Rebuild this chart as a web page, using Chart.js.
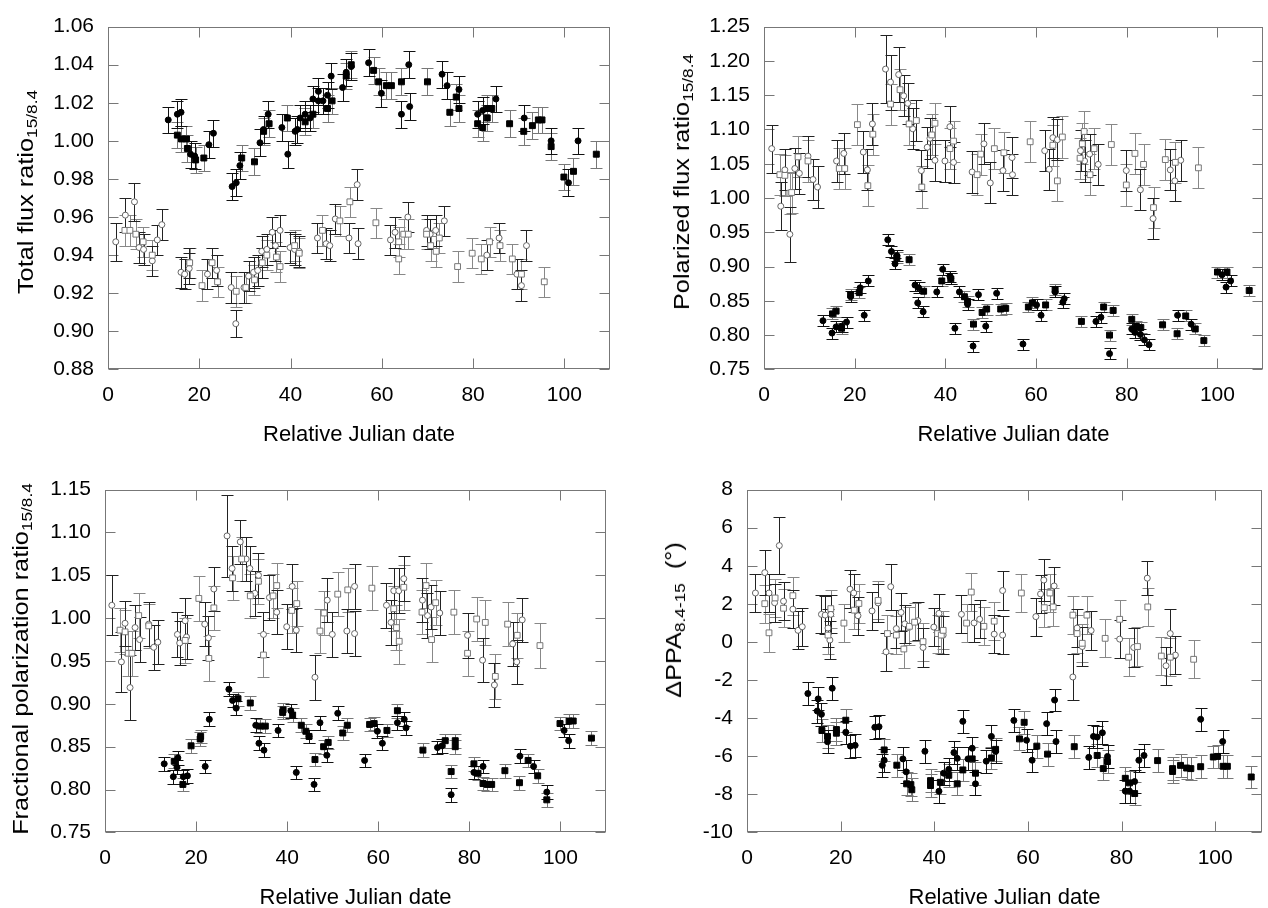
<!DOCTYPE html>
<html>
<head>
<meta charset="utf-8">
<title>Flux ratios</title>
<script src="https://cdn.jsdelivr.net/npm/chart.js@4.4.0/dist/chart.umd.min.js"></script>
<style>
  html, body { margin: 0; padding: 0; background: #fff; overflow: hidden; width: 1268px; height: 908px; }
  canvas { position: absolute; }
  .ytitle {
    position: absolute; white-space: nowrap; line-height: 1; color: #000;
    font-family: "Liberation Sans", Arial, sans-serif; font-size: 22px;
    transform: translate(-50%, -50%) rotate(-90deg) scaleX(1.15);
  }
  .ytitle sub { font-size: 15px; vertical-align: -4px; line-height: 1; }
</style>
</head>
<body>
<canvas id="totalFlux" width="620" height="448" style="left:0;top:0"></canvas>
<canvas id="polFlux" width="628" height="448" style="left:640px;top:0"></canvas>
<canvas id="fracPol" width="620" height="448" style="left:0;top:463px"></canvas>
<canvas id="dPpa" width="628" height="448" style="left:640px;top:463px"></canvas>

<div class="ytitle" style="left:27px;top:192px">Total flux ratio<sub>15/8.4</sub></div>
<div class="ytitle" style="left:683px;top:182px">Polarized flux ratio<sub>15/8.4</sub></div>
<div class="ytitle" style="left:22px;top:659px">Fractional polarization ratio<sub>15/8.4</sub></div>
<div class="ytitle" style="left:675px;top:620px">&Delta;PPA<sub>8.4-15</sub>&nbsp;&nbsp;(&deg;)</div>

<script>
var FONT = '"Liberation Sans", Arial, sans-serif';

// x axis
var julianTicks = [0, 20, 40, 60, 80, 100];
var julianMax = 110;

// y ticks for each panel
var totalFluxTicks = [0.88, 0.90, 0.92, 0.94, 0.96, 0.98, 1.00, 1.02, 1.04, 1.06];
var polFluxTicks = [0.75, 0.80, 0.85, 0.90, 0.95, 1.00, 1.05, 1.10, 1.15, 1.20, 1.25];
var fracPolTicks = [0.75, 0.80, 0.85, 0.90, 0.95, 1.00, 1.05, 1.10, 1.15];
var dPpaTicks = [-10, -8, -6, -4, -2, 0, 2, 4, 6, 8];

// rows: [day, value, error (optional, default below)]
// ---- total flux ratio ----
var totalFilledCircles = [[13.2,1.011],[15.2,1.014],[16.0,1.015],[18.1,0.993],[19.0,0.992],[22.1,0.998],[23.1,1.004],
  [27.2,0.976],[28.1,0.978],[28.9,0.987],[33.3,0.999],[34.1,1.006],[35.1,1.014],[38.1,1.007],[39.4,0.993],[41.0,1.005],
  [41.5,1.006],[42.1,1.012],[43.2,1.014],[44.3,1.012],[44.9,1.022],[46.1,1.026],[46.1,1.021],[47.1,1.021],[48.1,1.024],
  [48.9,1.034],[51.4,1.028],[52.2,1.036],[53.3,1.039],[57.1,1.041],[59.9,1.025],[64.3,1.014],[65.9,1.040],[66.1,1.018],
  [73.2,1.035],[74.3,1.029],[76.9,1.027],[81.0,1.014],[82.1,1.016],[85.0,1.022],[91.2,1.012],[97.1,1.000],[100.9,0.978],
  [103.0,1.000]];
var totalFilledSquares = [[15.2,1.003],[16.1,1.001],[17.2,1.001],[17.4,0.996],[19.2,0.990],[21.0,0.991],[29.3,0.991],
  [32.1,0.989],[34.1,1.005],[35.3,1.009],[39.3,1.012],[43.2,1.010],[44.9,1.014],[48.1,1.017],[49.1,1.021],[52.2,1.034],
  [53.3,1.040],[58.2,1.037],[59.3,1.031],[61.0,1.029],[62.1,1.029],[64.3,1.031],[70.0,1.031],[74.9,1.015],[76.3,1.023],
  [76.9,1.017],[81.0,1.009],[82.1,1.007],[83.1,1.012],[83.1,1.017],[84.1,1.017],[88.0,1.009],[91.1,1.005],[93.0,1.008],
  [94.3,1.011],[95.1,1.011],[97.1,0.997],[99.9,0.981],[102.0,0.984],[107.0,0.993]];
var totalOpenCircles = [[1.7,0.947,0.010],[3.8,0.961,0.009],[5.8,0.968,0.010],[6.8,0.944],[7.8,0.943],[9.7,0.937],
  [10.8,0.948],[11.8,0.956],[16.0,0.931],[16.8,0.930],[17.8,0.933],[17.8,0.936],[21.8,0.930],[22.7,0.936],[23.8,0.932],
  [27.0,0.923],[28.0,0.904,0.007],[29.8,0.923],[30.8,0.929],[31.9,0.931],[32.8,0.932],[33.7,0.936],[33.7,0.942],
  [34.8,0.943],[36.0,0.952],[36.7,0.945],[37.7,0.953],[39.9,0.944],[40.9,0.943],[41.9,0.942],[45.9,0.949],[47.8,0.946],
  [48.6,0.945],[49.8,0.959],[52.8,0.949],[54.6,0.977],[54.8,0.946],[61.9,0.948],[62.9,0.952],[65.7,0.960],[69.8,0.953],
  [70.6,0.951],[71.8,0.953],[73.7,0.958],[83.0,0.940],[85.7,0.949],[89.6,0.930],[90.6,0.924],[91.7,0.945]];
var totalOpenSquares = [[3.7,0.953],[4.8,0.953],[6.1,0.951],[7.7,0.947],[9.7,0.940],[17.9,0.936],[20.6,0.924],
  [22.8,0.936],[24.0,0.926],[28.1,0.921],[30.2,0.923],[32.1,0.927],[33.8,0.936],[34.8,0.940],[36.9,0.939],[37.7,0.934],
  [40.9,0.945],[41.9,0.941],[47.0,0.953],[50.8,0.958],[53.0,0.968],[58.7,0.957],[63.7,0.938],[63.7,0.947],[64.8,0.951],
  [65.8,0.951],[69.8,0.951],[70.7,0.945],[71.9,0.942],[72.6,0.949],[76.6,0.934],[79.8,0.941],[81.8,0.938],[83.6,0.947],
  [85.9,0.945],[88.6,0.938],[90.6,0.930],[95.6,0.926]];

// ---- polarized flux ratio ----
var polFilledCircles = [[13.0,0.821],[15.0,0.803],[15.9,0.812],[17.1,0.813],[18.2,0.819],[19.1,0.856],[21.2,0.869],
  [22.1,0.829],[23.0,0.879],[27.3,0.939],[28.1,0.922],[28.9,0.904],[29.3,0.916],[33.3,0.873],[33.9,0.847],[34.1,0.869],
  [35.1,0.834],[38.1,0.863],[39.4,0.896],[41.0,0.886],[41.2,0.883],[42.1,0.810],[43.1,0.863],[44.9,0.845],[46.1,0.784],
  [47.3,0.859],[48.9,0.813],[51.3,0.861],[57.1,0.787],[60.1,0.844],[61.1,0.829],[64.2,0.863],[65.9,0.848],[66.2,0.853],
  [73.2,0.820],[74.3,0.826],[76.2,0.773],[81.1,0.809],[81.8,0.804],[83.0,0.801],[83.9,0.793],[84.9,0.786],[91.2,0.829],
  [94.2,0.816],[101.0,0.888],[101.9,0.870],[102.9,0.879]];
var polFilledSquares = [[15.1,0.831],[15.9,0.835],[17.1,0.810],[19.1,0.859],[21.0,0.862],[29.3,0.913],[32.0,0.910],
  [35.2,0.864],[39.2,0.879],[41.2,0.882],[44.2,0.856],[44.9,0.849],[46.2,0.816],[48.1,0.833],[49.1,0.838],[52.2,0.838],
  [53.3,0.839],[58.3,0.841],[59.2,0.847],[62.1,0.844],[64.2,0.866],[70.0,0.820],[74.9,0.841],[76.2,0.800],[77.0,0.836],
  [81.1,0.823],[82.1,0.813],[83.1,0.811],[87.9,0.815],[91.1,0.802],[93.0,0.828],[95.1,0.809],[97.0,0.792],[100.0,0.892],
  [102.1,0.892],[107.0,0.865]];
var polOpenCircles = [[1.7,1.072,0.035],[3.7,0.988,0.035],[4.6,1.041],[5.7,0.947,0.040],[6.8,1.043],[7.8,1.036],
  [9.7,1.061],[10.8,1.027],[11.8,1.016],[16.0,1.054],[17.6,1.065],[21.9,1.067],[22.8,1.041],[23.9,1.108],
  [26.8,1.188,0.050],[27.9,1.169,0.040],[29.7,1.180,0.040],[30.8,1.149],[31.7,1.138],[32.8,1.101],[33.6,1.113],
  [34.7,1.040],[36.0,1.074],[36.6,1.087],[37.7,1.055],[39.9,1.054],[41.0,1.104],[41.8,1.052],[45.9,1.038],[48.5,1.079],
  [49.9,1.022],[52.7,1.040],[54.7,1.059],[54.8,1.034],[61.9,1.069],[62.9,1.042],[63.7,1.088],[64.7,1.085],[69.8,1.069],
  [70.7,1.054],[71.8,1.064],[73.7,1.049],[79.9,1.040],[83.0,1.012],[85.8,0.970],[89.6,1.041],[90.6,1.025],[91.9,1.055]];
var polOpenSquares = [[3.5,1.034],[4.6,1.033],[5.7,1.007],[6.1,1.008],[7.5,1.060],[9.7,1.054],[16.6,1.043],[17.8,1.043],
  [20.6,1.107],[22.9,1.018],[24.0,1.093],[27.9,1.137],[30.0,1.158],[32.0,1.108],[33.6,1.113],[34.8,1.016],[37.0,1.092],
  [37.7,1.109],[41.0,1.072],[41.8,1.083],[47.0,1.034],[47.8,1.064],[50.8,1.072],[52.9,1.066],[58.7,1.082],[63.7,1.077],
  [64.7,1.025],[65.8,1.089],[69.7,1.058],[70.2,1.079],[70.6,1.097],[71.9,1.034],[72.8,1.072],[76.6,1.078],[79.9,1.019],
  [81.8,1.065],[83.7,1.049],[85.9,0.986],[88.5,1.056],[90.7,1.052],[95.8,1.044]];

// ---- fractional polarization ratio ----
var fracFilledCircles = [[13.0,0.830],[15.0,0.815],[15.8,0.826],[16.0,0.837],[17.2,0.815],[18.1,0.816],[22.0,0.827],
  [22.9,0.882],[27.2,0.917],[28.0,0.904],[28.8,0.895],[33.1,0.875],[33.8,0.854],[34.9,0.846],[38.0,0.869],[40.8,0.892],
  [42.0,0.820],[44.8,0.862],[45.9,0.806],[47.2,0.878],[48.7,0.840],[51.1,0.889],[57.0,0.834],[59.8,0.868],[60.9,0.854],
  [64.2,0.878],[65.7,0.882],[66.1,0.872],[73.0,0.849],[74.0,0.851],[76.0,0.794],[81.0,0.820],[83.0,0.827],[91.1,0.839],
  [94.1,0.827],[97.0,0.797],[100.8,0.869],[101.8,0.857]];
var fracFilledSquares = [[15.2,0.833],[17.1,0.806],[18.9,0.851],[20.9,0.859],[21.0,0.862],[29.2,0.906],[31.9,0.901],
  [34.1,0.874],[35.2,0.874],[39.0,0.890],[39.1,0.893],[41.2,0.887],[43.1,0.875],[44.1,0.868],[44.8,0.862],[46.1,0.835],
  [48.0,0.850],[49.0,0.855],[52.2,0.866],[53.2,0.875],[58.1,0.876],[59.1,0.877],[61.9,0.869],[64.2,0.892],[69.8,0.846],
  [74.7,0.857],[76.0,0.821],[76.9,0.857],[76.9,0.850],[81.0,0.830],[81.9,0.819],[83.0,0.807],[83.9,0.806],[84.9,0.806],
  [87.8,0.822],[91.0,0.808],[92.9,0.834],[95.0,0.816],[97.0,0.788],[99.9,0.877],[101.9,0.880],[102.8,0.880],[106.8,0.860]];
var fracOpenCircles = [[1.5,1.015,0.035],[3.6,0.949,0.035],[4.4,0.994],[5.5,0.919,0.038],[6.6,0.989],[7.6,0.975],
  [9.6,0.993],[10.7,0.966],[11.6,0.972],[15.9,0.981],[16.4,0.971],[17.6,0.997],[17.9,0.978],[21.9,0.993],[22.7,0.977],
  [23.9,1.034],[26.8,1.096,0.048],[27.9,1.058],[29.7,1.089],[31.0,1.069],[31.8,1.058],[32.9,1.029],[33.7,1.050],
  [34.8,0.981],[36.1,1.024],[37.7,1.007],[39.9,0.990],[41.1,1.037],[42.0,0.986],[46.1,0.931],[48.8,1.021],[49.9,0.981],
  [53.1,0.985],[54.8,1.037],[54.8,0.982],[61.8,1.015],[62.8,0.995],[63.4,1.032],[64.5,1.032],[65.6,1.046],[69.7,1.021],
  [70.8,1.003],[71.6,1.013],[73.5,1.006],[79.6,0.980],[82.9,0.951],[85.5,0.922],[89.5,0.970],[90.4,0.949],[91.6,0.998]];
var fracOpenSquares = [[3.3,0.986],[4.4,0.984],[5.1,0.959],[5.9,0.959],[7.4,1.003],[9.6,0.991],[17.6,0.974],[20.6,1.023],
  [22.8,0.953],[23.9,1.012],[28.0,1.047],[30.0,1.069],[31.9,1.026],[33.7,1.043],[34.8,0.957],[36.9,1.026],[37.7,1.038],
  [41.0,1.009],[42.1,1.017],[47.2,0.985],[48.1,1.006],[51.1,1.028],[53.3,1.033],[58.6,1.035],[63.4,1.011],[64.0,0.989],
  [64.6,0.973],[65.6,1.036],[69.6,1.007],[70.5,1.038],[71.7,0.975],[72.6,1.018],[76.6,1.007],[79.6,0.959],[81.6,0.999],
  [83.5,0.995],[85.7,0.932],[88.4,0.993],[90.5,0.980],[95.5,0.968]];

// ---- delta PPA (degrees) ----
var ppaFilledCircles = [[13.0,-2.71],[15.2,-2.99],[15.0,-3.63],[15.9,-3.80],[18.2,-2.43],[17.2,-5.24],[21.1,-4.74],
  [22.1,-5.47],[23.1,-5.43],[27.3,-4.48],[28.2,-4.45],[29.3,-6.21],[28.9,-6.48],[33.3,-6.14],[34.0,-6.82],[38.0,-5.74],
  [41.0,-7.84],[42.0,-6.89],[43.1,-6.69],[44.2,-5.81],[44.9,-6.11],[46.1,-4.17],[47.2,-6.14],[48.1,-5.58],[48.8,-7.45],
  [51.1,-6.26],[52.2,-4.96],[53.1,-5.75],[57.0,-4.12],[59.7,-5.16],[60.9,-6.21],[64.0,-4.29],[65.7,-3.05],[66.0,-5.23],
  [73.0,-6.06],[74.0,-4.96],[74.8,-4.99],[75.9,-4.77],[77.0,-6.01],[80.8,-7.83],[81.7,-7.83],[82.8,-7.33],[83.7,-6.21],
  [84.8,-5.96],[96.9,-4.06],[101.6,-5.23]];
var ppaFilledSquares = [[16.0,-4.65],[17.2,-4.96],[19.1,-4.79],[19.1,-4.60],[21.1,-4.11],[29.3,-5.67],[32.0,-6.47],
  [34.1,-7.45],[35.0,-7.49],[35.2,-7.76],[39.2,-7.28],[39.2,-7.54],[41.3,-7.37],[43.1,-7.00],[44.9,-7.45],[46.1,-6.72],
  [48.1,-6.14],[48.8,-6.89],[52.2,-6.09],[53.1,-5.64],[58.2,-5.09],[59.2,-4.22],[61.9,-5.47],[64.2,-5.89],[69.9,-5.50],
  [74.8,-5.96],[76.1,-6.65],[77.0,-6.28],[80.8,-7.16],[81.7,-7.40],[82.8,-7.96],[87.7,-6.23],[90.9,-6.80],[90.9,-6.65],
  [92.6,-6.48],[93.9,-6.62],[94.8,-6.65],[96.9,-6.55],[99.6,-6.04],[100.5,-6.01],[101.7,-6.53],[102.6,-6.53],[107.7,-7.09]];
var ppaOpenCircles = [[1.8,2.57],[3.8,3.64,1.2],[4.7,2.57],[5.9,2.06],[6.9,5.06,1.5],[7.8,2.14],[9.8,1.72],[10.9,0.61],
  [11.8,0.80],[15.9,1.45],[16.7,1.41],[17.3,0.73],[17.9,1.45],[17.7,0.10],[22.0,2.77],[22.8,2.57],[23.7,1.38],[26.7,1.63],
  [28.0,2.05],[30.7,2.90,1.2],[29.7,-0.52],[31.9,0.70],[32.9,1.55],[33.7,0.95],[36.5,1.12],[37.6,-0.29],[39.9,0.78],
  [41.0,1.50],[41.9,0.36],[45.8,1.45],[48.5,1.00],[49.7,1.19],[52.8,0.41],[54.6,2.70],[54.6,0.36],[61.7,1.33],[62.7,2.52],
  [63.4,3.25,1.1],[65.6,2.94],[69.6,-1.84,1.2],[70.5,0.73],[71.6,-0.24],[73.5,0.60],[79.6,0.15],[82.6,-0.29],
  [85.5,3.35,0.9],[89.5,-1.25],[90.4,0.44,1.3],[91.5,-0.69]];
var ppaOpenSquares = [[3.8,2.01],[4.7,0.48],[6.0,2.31],[7.8,1.77],[9.8,2.43],[17.3,0.36],[17.9,1.75],[20.7,0.99],
  [22.9,1.67],[23.9,2.02],[28.0,2.18],[30.0,0.44],[31.9,0.36],[33.5,-0.37],[34.7,0.82],[35.8,1.04],[37.6,0.02],[40.7,0.44],
  [41.5,0.36],[41.9,0.61],[46.9,0.99],[47.9,2.62],[50.6,0.82],[52.8,1.09],[58.6,2.57],[63.5,1.80],[64.7,2.57],[65.4,1.84],
  [69.6,1.41],[70.5,0.44],[71.6,-0.07],[72.6,1.41],[76.5,0.19],[79.6,1.19],[81.5,-0.80],[83.4,-0.24],[85.6,1.84],
  [88.5,-0.74],[90.4,-0.80],[95.4,-0.91]];

// typical error when a row has none
var totalErr = { filled: 0.007, open: 0.008 };
var polErr = { filled: 0.008, open: 0.03 };
var fracErr = { filled: 0.008, open: 0.026 };
var ppaErr = { filled: 0.6, open: 1.0 };

var MARK = {
  filledCircle: { style: 'circle', r: 3, fill: '#000', line: '#000', bar: '#111' },
  filledSquare: { style: 'rect', r: 4.2, fill: '#000', line: '#000', bar: '#777' },
  openCircle: { style: 'circle', r: 3, fill: '#fff', line: '#666', bar: '#222' },
  openSquare: { style: 'rect', r: 4.1, fill: '#fff', line: '#777', bar: '#888' }
};

function toPoints(rows, err) {
  return rows.map(function (r) { return { x: r[0], y: r[1], e: r.length > 2 ? r[2] : err }; });
}

// box, inward ticks on all four sides, error bars under the markers
var frameAndBars = {
  id: 'frameAndBars',
  beforeDatasetsDraw: function (chart) {
    var ctx = chart.ctx, a = chart.chartArea, xs = chart.scales.x, ys = chart.scales.y;
    ctx.save();
    ctx.lineWidth = 1;
    ctx.strokeStyle = '#777';
    var l = Math.round(a.left) + 0.5, r = Math.round(a.right) - 0.5;
    var t = Math.round(a.top) + 0.5, b = Math.round(a.bottom) - 0.5;
    ctx.strokeRect(l, t, r - l, b - t);
    ctx.beginPath();
    xs.ticks.forEach(function (tk) {
      var px = Math.round(xs.getPixelForValue(tk.value)) + 0.5;
      ctx.moveTo(px, b); ctx.lineTo(px, b - 10);
      ctx.moveTo(px, t); ctx.lineTo(px, t + 10);
    });
    ys.ticks.forEach(function (tk) {
      var py = Math.round(ys.getPixelForValue(tk.value)) + 0.5;
      ctx.moveTo(l, py); ctx.lineTo(l + 10, py);
      ctx.moveTo(r, py); ctx.lineTo(r - 10, py);
    });
    ctx.stroke();

    chart.data.datasets.forEach(function (ds) {
      ctx.strokeStyle = ds.barColor;
      ctx.beginPath();
      ds.data.forEach(function (p) {
        var px = Math.round(xs.getPixelForValue(p.x)) + 0.5;
        var y1 = Math.round(ys.getPixelForValue(p.y + p.e)) + 0.5;
        var y2 = Math.round(ys.getPixelForValue(p.y - p.e)) + 0.5;
        ctx.moveTo(px, y1); ctx.lineTo(px, y2);
        ctx.moveTo(px - 6, y1); ctx.lineTo(px + 6, y1);
        ctx.moveTo(px - 6, y2); ctx.lineTo(px + 6, y2);
      });
      ctx.stroke();
    });
    ctx.restore();
  }
};

function makeChart(id, yTicks, decimals, yWidth, padRight, sets) {
  var datasets = sets.map(function (s) {
    return {
      data: toPoints(s[0], s[2]),
      pointStyle: s[1].style,
      pointRadius: s[1].r,
      pointBackgroundColor: s[1].fill,
      pointBorderColor: s[1].line,
      pointBorderWidth: 1,
      barColor: s[1].bar
    };
  });
  return new Chart(document.getElementById(id), {
    type: 'scatter',
    data: { datasets: datasets },
    options: {
      responsive: false,
      animation: false,
      events: [],
      layout: { padding: { top: 15, right: padRight, bottom: 0, left: 0 } },
      plugins: { legend: { display: false }, tooltip: { enabled: false } },
      scales: {
        x: {
          type: 'linear', min: 0, max: julianMax,
          grid: { display: false, drawTicks: false },
          border: { display: false },
          afterBuildTicks: function (sc) { sc.ticks = julianTicks.map(function (v) { return { value: v }; }); },
          ticks: { color: '#000', padding: 13, font: { family: FONT, size: 21 } },
          title: { display: true, text: 'Relative Julian date', color: '#000',
                   font: { family: FONT, size: 22 }, padding: { top: 1, bottom: 0 } }
        },
        y: {
          type: 'linear', min: yTicks[0], max: yTicks[yTicks.length - 1],
          grid: { display: false, drawTicks: false },
          border: { display: false },
          afterBuildTicks: function (sc) { sc.ticks = yTicks.map(function (v) { return { value: v }; }); },
          afterFit: function (sc) { sc.width = yWidth; },
          ticks: { color: '#000', padding: 14, font: { family: FONT, size: 21 },
                   callback: function (v) { return Number(v).toFixed(decimals); } }
        }
      }
    },
    plugins: [frameAndBars]
  });
}

makeChart('totalFlux', totalFluxTicks, 2, 108, 10, [
  [totalOpenSquares, MARK.openSquare, totalErr.open],
  [totalOpenCircles, MARK.openCircle, totalErr.open],
  [totalFilledSquares, MARK.filledSquare, totalErr.filled],
  [totalFilledCircles, MARK.filledCircle, totalErr.filled]
]);
makeChart('polFlux', polFluxTicks, 2, 124, 3, [
  [polOpenSquares, MARK.openSquare, polErr.open],
  [polOpenCircles, MARK.openCircle, polErr.open],
  [polFilledSquares, MARK.filledSquare, polErr.filled],
  [polFilledCircles, MARK.filledCircle, polErr.filled]
]);
makeChart('fracPol', fracPolTicks, 2, 105, 14, [
  [fracOpenSquares, MARK.openSquare, fracErr.open],
  [fracOpenCircles, MARK.openCircle, fracErr.open],
  [fracFilledSquares, MARK.filledSquare, fracErr.filled],
  [fracFilledCircles, MARK.filledCircle, fracErr.filled]
]);
makeChart('dPpa', dPpaTicks, 0, 107, 6, [
  [ppaOpenSquares, MARK.openSquare, ppaErr.open],
  [ppaOpenCircles, MARK.openCircle, ppaErr.open],
  [ppaFilledSquares, MARK.filledSquare, ppaErr.filled],
  [ppaFilledCircles, MARK.filledCircle, ppaErr.filled]
]);
</script>
</body>
</html>
